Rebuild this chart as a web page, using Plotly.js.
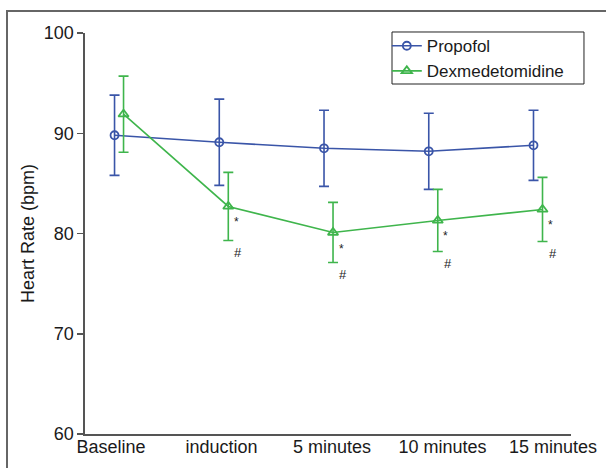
<!DOCTYPE html>
<html>
<head>
<meta charset="utf-8">
<script src="https://cdn.plot.ly/plotly-3.0.1.min.js"></script>
<style>
html,body{margin:0;padding:0;background:#fff;width:606px;height:468px;overflow:hidden;}
#frame{position:absolute;left:6px;top:10px;width:640px;height:500px;border:2px solid #666;box-sizing:border-box;}
#chart{position:absolute;left:0;top:0;width:606px;height:468px;}
</style>
</head>
<body>
<div id="frame"></div>
<div id="chart"></div>
<script>
// Data
const categories = ["Baseline", "induction", "5 minutes", "10 minutes", "15 minutes"];
const propofolMean = [89.8, 89.1, 88.5, 88.2, 88.8];
const propofolSD   = [4.0, 4.3, 3.8, 3.8, 3.5];
const dexMean = [91.9, 82.7, 80.1, 81.3, 82.4];
const dexSD   = [3.8, 3.4, 3.0, 3.1, 3.2];
const dexStar = [false, true, true, true, true];
const yTicks = [60, 70, 80, 90, 100];

const blue = "#3a55a8";
const green = "#3fb54c";
const offset = 0.043;
const idx = categories.map((c, i) => i);
const FONT = "Liberation Sans, Arial, sans-serif";

const traces = [
  {
    name: "Propofol",
    x: idx.map(i => i - offset),
    y: propofolMean,
    mode: "lines+markers",
    line: {color: blue, width: 1.6},
    marker: {symbol: "circle-open", size: 8, color: blue, line: {width: 1.8}},
    error_y: {type: "data", array: propofolSD, visible: true, color: blue, thickness: 1.6, width: 5}
  },
  {
    name: "Dexmedetomidine",
    x: idx.map(i => i + offset),
    y: dexMean,
    mode: "lines+markers",
    line: {color: green, width: 1.6},
    marker: {symbol: "triangle-up-open", size: 9, color: green, line: {width: 1.8}},
    error_y: {type: "data", array: dexSD, visible: true, color: green, thickness: 1.6, width: 5}
  },
  {
    // invisible carrier for the category label axis
    x: idx, y: dexMean, xaxis: "x2", yaxis: "y",
    mode: "markers", marker: {opacity: 0}, showlegend: false, hoverinfo: "skip"
  }
];

const annotations = [];
idx.forEach(i => {
  if (!dexStar[i]) return;
  annotations.push({
    x: i + offset, y: dexMean[i], xref: "x", yref: "y",
    text: "*", showarrow: false, xshift: 8, yshift: -16,
    font: {family: FONT, size: 12, color: "#222"}
  });
  annotations.push({
    x: i + offset, y: dexMean[i] - dexSD[i], xref: "x", yref: "y",
    text: "#", showarrow: false, xshift: 10, yshift: -12,
    font: {family: FONT, size: 13, color: "#222"}
  });
});

const layout = {
  width: 606, height: 468,
  margin: {l: 85, r: 35, t: 33, b: 34},
  paper_bgcolor: "rgba(0,0,0,0)",
  plot_bgcolor: "rgba(0,0,0,0)",
  font: {family: FONT, size: 18, color: "#1a1a1a"},
  showlegend: true,
  legend: {
    x: 0.621, y: 1.012, xanchor: "left", yanchor: "top",
    borderwidth: 0, bgcolor: "rgba(0,0,0,0)",
    font: {size: 17, color: "#1a1a1a"},
    itemwidth: 30, tracegroupgap: 0
  },
  shapes: [{
    type: "rect", xref: "paper", yref: "paper",
    x0: 0.6317, x1: 1.0267, y0: 0.8728, y1: 1.0025,
    line: {color: "#222", width: 1}, fillcolor: "#fff", layer: "below"
  }],
  xaxis: {
    range: [-0.325, 4.315],
    showticklabels: false,
    showline: true, linecolor: "#555", linewidth: 1.6,
    ticks: "", showgrid: false, zeroline: false
  },
  xaxis2: {
    overlaying: "x", anchor: "y", side: "bottom",
    range: [-0.235, 4.163],
    tickmode: "array", tickvals: idx, ticktext: categories,
    showline: false, ticks: "", showgrid: false, zeroline: false,
    tickfont: {size: 18, color: "#1a1a1a"}
  },
  yaxis: {
    range: [60, 100],
    tickvals: yTicks,
    showline: true, linecolor: "#555", linewidth: 1.6,
    ticks: "outside", ticklen: 6, tickcolor: "#555", tickwidth: 1.5,
    showgrid: false, zeroline: false,
    tickfont: {size: 18, color: "#1a1a1a"},
    title: {text: "Heart Rate (bpm)", font: {size: 18, color: "#1a1a1a"}, standoff: 4}
  },
  annotations: annotations
};

Plotly.newPlot("chart", traces, layout, {displayModeBar: false, staticPlot: true});
</script>
</body>
</html>
